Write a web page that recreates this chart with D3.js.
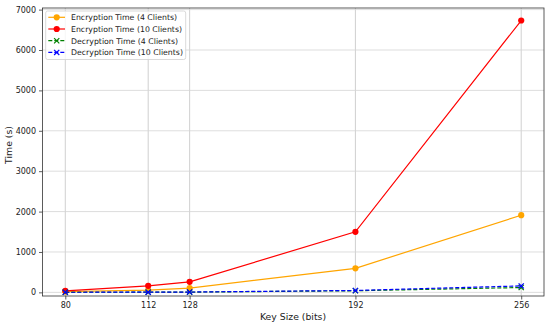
<!DOCTYPE html>
<html>
<head>
<meta charset="utf-8">
<script src="https://cdn.jsdelivr.net/npm/d3@7"></script>
<style>
  body { margin: 0; background: #fff; }
  text { font-family: "DejaVu Sans", sans-serif; fill: #222; }
</style>
</head>
<body>
<svg id="chart" width="550" height="325"></svg>
<script>
var keySizes = [80, 112, 128, 192, 256];
var enc4 = [20, 55, 104, 595, 1910];
var enc10 = [37, 161, 261, 1500, 6730];
var dec4 = [2, 4, 6, 40, 120];
var dec10 = [3, 5, 8, 47, 160];
var yTicks = [0, 1000, 2000, 3000, 4000, 5000, 6000, 7000];

var seriesNames = [
    'Encryption Time (4 Clients)',
    'Encryption Time (10 Clients)',
    'Decryption Time (4 Clients)',
    'Decryption Time (10 Clients)'
];
var seriesValues = [enc4, enc10, dec4, dec10];
var seriesColors = ['#ffa500', '#ff0000', '#008000', '#0000ff'];
var seriesMarker = ['circle', 'circle', 'x', 'x'];
var seriesDash = [null, null, '4,2', '4,2'];

var plotLeft = 42.5, plotRight = 544, plotTop = 8, plotBottom = 296;

var svg = d3.select('#chart');

var x = d3.scaleLinear()
    .domain([71.2, 264.8])
    .range([plotLeft, plotRight]);

var y = d3.scaleLinear()
    .domain([-90, 7040])
    .range([plotBottom, plotTop]);

// grid
svg.append('g')
    .selectAll('line')
    .data(keySizes)
    .enter()
    .append('line')
    .attr('x1', function (d) { return x(d); })
    .attr('x2', function (d) { return x(d); })
    .attr('y1', plotTop)
    .attr('y2', plotBottom)
    .attr('stroke', '#c4c4c4')
    .attr('stroke-width', 0.8);

svg.append('g')
    .selectAll('line')
    .data(yTicks)
    .enter()
    .append('line')
    .attr('x1', plotLeft)
    .attr('x2', plotRight)
    .attr('y1', function (d) { return y(d); })
    .attr('y2', function (d) { return y(d); })
    .attr('stroke', '#d4d4d4')
    .attr('stroke-width', 0.8);

// axes
var xAxis = svg.append('g')
    .attr('transform', 'translate(0,' + plotBottom + ')')
    .call(d3.axisBottom(x).tickValues(keySizes).tickSize(3.5).tickPadding(3).tickFormat(d3.format('d')));

var yAxis = svg.append('g')
    .attr('transform', 'translate(' + plotLeft + ',0)')
    .call(d3.axisLeft(y).tickValues(yTicks).tickSize(3.5).tickPadding(3).tickFormat(d3.format('d')));

[xAxis, yAxis].forEach(function (g) {
    g.select('.domain').remove();
    g.selectAll('line').attr('stroke', '#333').attr('stroke-width', 0.8);
    g.selectAll('text').style('font-size', '8px').attr('fill', '#222');
});

// frame
svg.append('rect')
    .attr('x', plotLeft)
    .attr('y', plotTop)
    .attr('width', plotRight - plotLeft)
    .attr('height', plotBottom - plotTop)
    .attr('fill', 'none')
    .attr('stroke', '#333')
    .attr('stroke-width', 0.8);

// lines
var line = d3.line()
    .x(function (d, i) { return x(keySizes[i]); })
    .y(function (d) { return y(d); });

function drawMarker(g, type, color, cx, cy) {
    if (type === 'circle') {
        g.append('circle')
            .attr('cx', cx)
            .attr('cy', cy)
            .attr('r', 3.1)
            .attr('fill', color);
    } else {
        var s = 2.6;
        g.append('path')
            .attr('d', 'M' + (cx - s) + ',' + (cy - s) + 'L' + (cx + s) + ',' + (cy + s) +
                'M' + (cx - s) + ',' + (cy + s) + 'L' + (cx + s) + ',' + (cy - s))
            .attr('stroke', color)
            .attr('stroke-width', 1.2)
            .attr('fill', 'none');
    }
}

for (var s = 0; s < seriesValues.length; s++) {
    var g = svg.append('g');
    g.append('path')
        .datum(seriesValues[s])
        .attr('d', line)
        .attr('fill', 'none')
        .attr('stroke', seriesColors[s])
        .attr('stroke-width', 1.2)
        .attr('stroke-dasharray', seriesDash[s]);
    for (var i = 0; i < keySizes.length; i++) {
        drawMarker(g, seriesMarker[s], seriesColors[s], x(keySizes[i]), y(seriesValues[s][i]));
    }
}

// axis labels
svg.append('text')
    .attr('x', 293)
    .attr('y', 319.5)
    .attr('text-anchor', 'middle')
    .style('font-size', '9.3px')
    .text('Key Size (bits)');

svg.append('text')
    .attr('transform', 'translate(12,145) rotate(-90)')
    .attr('text-anchor', 'middle')
    .style('font-size', '9.3px')
    .text('Time (s)');

// legend
var lg = svg.append('g').attr('transform', 'translate(45.7,11)');
lg.append('rect')
    .attr('width', 140)
    .attr('height', 48.5)
    .attr('rx', 2)
    .attr('fill', '#fff')
    .attr('fill-opacity', 0.8)
    .attr('stroke', '#d0d0d0')
    .attr('stroke-width', 0.8);

for (var k = 0; k < seriesNames.length; k++) {
    var ly = 6.3 + k * 11.7;
    lg.append('line')
        .attr('x1', 2.6)
        .attr('x2', 19.3)
        .attr('y1', ly)
        .attr('y2', ly)
        .attr('stroke', seriesColors[k])
        .attr('stroke-width', 1.2)
        .attr('stroke-dasharray', seriesDash[k]);
    drawMarker(lg, seriesMarker[k], seriesColors[k], 11, ly);
    lg.append('text')
        .attr('x', 25.3)
        .attr('y', ly + 2.9)
        .style('font-size', '7.8px')
        .text(seriesNames[k]);
}
</script>
</body>
</html>
